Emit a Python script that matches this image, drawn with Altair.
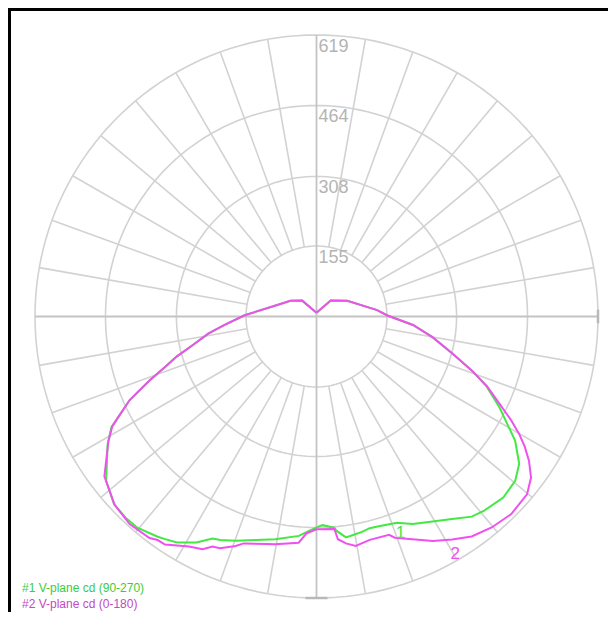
import altair as alt
import pandas as pd

# ---------------- data ----------------
# gamma: angle from nadir in degrees (+ = right half, - = left half), cd: candela
m_angle = [-180, -138, -121, -105, -91, -84.7, -81, -77, -74, -71.6,
           -69, -65.9, -63, -61.7, -59, -53, -47, -42, -37, -35.4,
           -33.6, -29, -26.1, -24.3, -22.6, -19.4, -17.8, -12.2, -10.3, -4.5,
           -2.6, 0, 4.8, 5.5, 7.4, 9.7, 13.4, 18.4, 19.5, 27.4,
           31.3, 35.2, 39.7, 44.6, 49.8, 53.1, 55.8, 58, 59.9, 62,
           64.5, 67.7, 70.8, 74.8, 79.9, 85, 90.8, 96, 117, 138.5,
           180]
m_cd = [8, 47, 67, 93, 158, 204, 241, 279, 320, 351,
        394, 450, 490, 510, 534, 584, 607, 614, 610, 603,
        602, 578, 570, 555, 552, 535, 524, 512, 509, 499,
        477, 468, 469, 492, 503, 512, 505, 506, 516, 556,
        574, 592, 603, 610, 606, 590, 565, 540, 515, 484,
        446, 406, 362, 309, 259, 213, 156, 134, 76, 47,
        8]

g_angle = [-180, -138, -121, -105, -91, -84.7, -81, -77, -74, -71.6,
           -69, -65.9, -63, -61.7, -58.6, -52, -47.2, -43.5, -40.3, -35.8,
           -34.2, -31.7, -28, -25.1, -23.3, -19.8, -15.2, -10.5, -4.6, -1.6,
           1.6, 4.8, 5.3, 7.6, 9.7, 11.9, 14.1, 16.2, 21.3, 24.9,
           29.5, 33.8, 37.8, 40.7, 45.9, 50.4, 54, 58, 63.6, 67.7,
           70.8, 74.8, 79.9, 85, 90.8, 96, 117, 138.5, 180]
g_cd = [8, 47, 67, 93, 158, 204, 241, 279, 320, 351,
        394, 450, 490, 512, 538, 587, 607, 610, 609, 597,
        592, 584, 563, 539, 535, 524, 509, 498, 484, 470,
        459, 466, 473, 490, 487, 484, 480, 481, 487, 503,
        518, 536, 557, 564, 572, 567, 551, 515, 449, 404,
        362, 309, 259, 213, 156, 134, 76, 47, 8]

ring_values = [155, 308, 464, 619]
ring_labels = ["155", "308", "464", "619"]
spoke_step = 10
max_cd = 619

legend_texts = ["#1 V-plane cd (90-270)", "#2 V-plane cd (0-180)"]
curve_label_text = ["1", "2"]
curve_label_gamma = [21.2, 30.3]
curve_label_cd = [510, 605]

GREEN = "#44e844"
MAGENTA = "#f050f0"
GRID = "#d2d2d2"
AXISC = "#c4c4c4"

# ---------------- tables ----------------
curves = pd.DataFrame({
    "gamma": g_angle + m_angle,
    "cd": g_cd + m_cd,
    "series": ["1"] * len(g_angle) + ["2"] * len(m_angle),
    "idx": list(range(len(g_angle))) + list(range(len(m_angle))),
})

ring_rows = []
for v in ring_values:
    for k, a in enumerate(range(0, 361, 2)):
        ring_rows.append({"ring": v, "gamma": a, "cd": v, "idx": k})
rings = pd.DataFrame(ring_rows)

spoke_rows = []
for a in range(0, 360, spoke_step):
    if a % 90 == 0:
        continue
    spoke_rows.append({"gamma": a, "r1": ring_values[0], "r2": max_cd})
spokes = pd.DataFrame(spoke_rows)

axes = pd.DataFrame({"x": [0, -max_cd], "y": [-max_cd, 0],
                     "x2": [0, max_cd], "y2": [max_cd, 0]})
ticks = pd.DataFrame({"x": [-24, max_cd], "y": [-max_cd, -15],
                      "x2": [24, max_cd], "y2": [-max_cd, 15]})

labels = pd.DataFrame({"y": ring_values, "t": ring_labels, "x": [0] * 4})
clabels = pd.DataFrame({"gamma": curve_label_gamma, "cd": curve_label_cd,
                        "t": curve_label_text})

sc = alt.Scale(domain=[-max_cd, max_cd], nice=False, zero=False)
X = lambda f: alt.X(f, type="quantitative", scale=sc, axis=None)
Y = lambda f: alt.Y(f, type="quantitative", scale=sc, axis=None)


def polar(ch):
    return ch.transform_calculate(
        px="datum.cd * sin(datum.gamma * PI / 180)",
        py="-datum.cd * cos(datum.gamma * PI / 180)",
    )


ring_layer = polar(alt.Chart(rings)).mark_line(
    color=GRID, strokeWidth=1.6).encode(
    x=X("px"), y=Y("py"), detail="ring:N", order="idx:Q")

spoke_layer = alt.Chart(spokes).transform_calculate(
    x1="datum.r1 * sin(datum.gamma * PI / 180)",
    y1="-datum.r1 * cos(datum.gamma * PI / 180)",
    x2="datum.r2 * sin(datum.gamma * PI / 180)",
    y2="-datum.r2 * cos(datum.gamma * PI / 180)",
).mark_rule(color=GRID, strokeWidth=1.6).encode(
    x=X("x1"), y=Y("y1"), x2="x2:Q", y2="y2:Q")

axis_layer = alt.Chart(axes).mark_rule(color=AXISC, strokeWidth=1.8).encode(
    x=X("x"), y=Y("y"), x2="x2:Q", y2="y2:Q")

tick_layer = alt.Chart(ticks).mark_rule(color="#b8b8b8", strokeWidth=2.5).encode(
    x=X("x"), y=Y("y"), x2="x2:Q", y2="y2:Q")

label_layer = alt.Chart(labels).mark_text(
    align="left", baseline="top", dx=2, dy=3, fontSize=18,
    font="Liberation Sans", color="#b4b4b4").encode(
    x=X("x"), y=Y("y"), text="t:N")

curve_layer = polar(alt.Chart(curves)).mark_line(strokeWidth=2).encode(
    x=X("px"), y=Y("py"),
    color=alt.Color("series:N", scale=alt.Scale(domain=["1", "2"],
                    range=[GREEN, MAGENTA]), legend=None),
    order="idx:Q")

clabel_layer = polar(alt.Chart(clabels)).mark_text(
    fontSize=17, font="Liberation Sans", align="center", baseline="middle").encode(
    x=X("px"), y=Y("py"), text="t:N",
    color=alt.Color("t:N", scale=alt.Scale(domain=["1", "2"],
                    range=[GREEN, MAGENTA]), legend=None))

one = pd.DataFrame({"a": [0]})
legend1 = alt.Chart(one).mark_text(
    align="left", baseline="middle", fontSize=12, font="Liberation Sans",
    color="#3ccc3c", text=legend_texts[0]).encode(
    x=alt.value(-13), y=alt.value(553))
legend2 = alt.Chart(one).mark_text(
    align="left", baseline="middle", fontSize=12, font="Liberation Sans",
    color="#c448c4", text=legend_texts[1]).encode(
    x=alt.value(-13), y=alt.value(569))

frame_top = alt.Chart(one).mark_rule(color="black", strokeWidth=3).encode(
    x=alt.value(-27), x2=alt.value(573), y=alt.value(-25.5))
frame_left = alt.Chart(one).mark_rule(color="black", strokeWidth=3).encode(
    x=alt.value(-25.5), y=alt.value(-27), y2=alt.value(577))

chart = alt.layer(
    ring_layer, spoke_layer, axis_layer, tick_layer, label_layer,
    curve_layer, clabel_layer, legend1, legend2, frame_top, frame_left
).resolve_scale(color="independent").properties(
    width=563, height=563,
    padding={"left": 27, "top": 27, "right": 10, "bottom": 14},
    autosize="none",
    background="white",
).configure_view(stroke=None)

chart.save("out.html", embed_options={"renderer": "svg", "actions": False})
